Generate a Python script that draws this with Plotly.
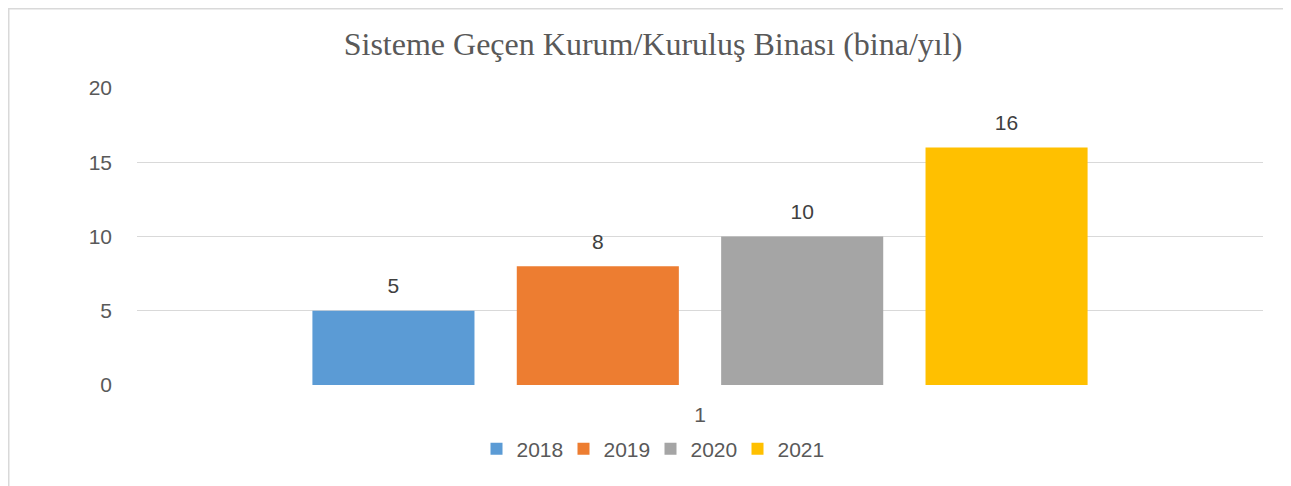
import plotly.graph_objects as go

categories = ["1"]
years = ["2018", "2019", "2020", "2021"]
values = [5, 8, 10, 16]
colors = ["#5B9BD5", "#ED7D31", "#A5A5A5", "#FFC000"]
yticks = [0, 5, 10, 15, 20]
title = "Sisteme Geçen Kurum/Kuruluş Binası (bina/yıl)"

# page body has an 8px margin, so the figure is sized/offset accordingly
W, H = 1283, 478
L, T = 129, 80
R = W - 1255
B = H - 377
pw = W - L - R
ph = H - T - B

BARGAP = 0.274
FONT = "Liberation Sans"

fig = go.Figure()
for yr, v, c in zip(years, values, colors):
    fig.add_trace(go.Bar(
        x=categories, y=[v], name=yr, marker=dict(color=c, line=dict(width=0)),
        hoverinfo="x+y+name",
    ))
for yr, v in zip(years, values):
    fig.add_trace(go.Scatter(
        x=categories, y=[v], mode="markers+text", text=[str(v)],
        textposition="top center", showlegend=False, hoverinfo="skip",
        marker=dict(size=18, opacity=0),
        textfont=dict(family=FONT, size=21, color="#404040"),
        cliponaxis=False,
    ))

fig.add_shape(type="rect", xref="paper", yref="paper",
              x0=(0.75 - L) / pw, x1=(W - 0.75 - L) / pw,
              y0=-2, y1=(ph + T - 0.75) / ph,
              line=dict(color="#d9d9d9", width=1.5), layer="below")

fig.update_layout(
    width=W, height=H,
    margin=dict(l=L, r=R, t=T, b=B),
    paper_bgcolor="white", plot_bgcolor="white",
    barmode="group", bargap=BARGAP, bargroupgap=0.207,
    scattermode="group", scattergap=BARGAP,
    title=dict(text=title, x=645 / W, xref="container", xanchor="center",
               y=1 - 36 / H, yanchor="middle",
               font=dict(family="Liberation Serif", size=32, color="#595959")),
    legend=dict(orientation="h", x=642.5 / W, xref="container", xanchor="center",
                y=1 - 441 / H, yref="container", yanchor="middle",
                font=dict(family=FONT, size=21, color="#595959"),
                itemwidth=30, entrywidth=42, traceorder="normal"),
    yaxis=dict(range=[0, 20], tickvals=yticks, showgrid=True, gridcolor="#d9d9d9",
               gridwidth=1.3, zeroline=False, showline=False, automargin=False,
               ticks="", ticklabelstandoff=24,
               tickfont=dict(family=FONT, size=21, color="#595959")),
    xaxis=dict(showgrid=False, showline=False, ticks="", ticklabelstandoff=15,
               automargin=False,
               tickfont=dict(family=FONT, size=21, color="#595959")),
)

fig.write_html("out.html")
